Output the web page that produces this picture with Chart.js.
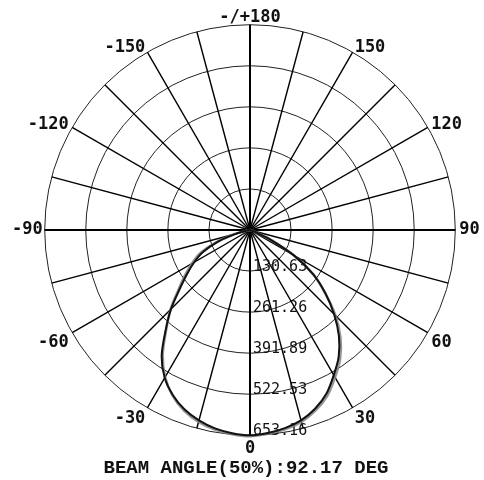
<!DOCTYPE html>
<html>
<head>
<meta charset="utf-8">
<script src="https://cdn.jsdelivr.net/npm/chart.js@4/dist/chart.umd.min.js"></script>
<style>
  html, body { margin: 0; padding: 0; background: #fff; }
</style>
</head>
<body>
<canvas id="polarChart" width="484" height="480"></canvas>
<script>
// spoke angles, clockwise from the top of the diagram
const angles = [180, 175, 170, 165, 160, 155, 150, 145, 140, 135, 130, 125,
  120, 115, 110, 105, 100, 95, 90, 85, 80, 75, 70, 65, 60, 55, 50, 45, 40, 35,
  30, 25, 20, 15, 10, 5, 0, -5, -10, -15, -20, -25, -30, -35, -40, -45, -50,
  -55, -60, -65, -70, -75, -80, -85, -90, -95, -100, -105, -110, -115, -120,
  -125, -130, -135, -140, -145, -150, -155, -160, -165, -170, -175];

// intensity, plane 1 (dark line)
const planeA = [0, 0, 0, 0, 0, 0, 0, 0, 0, 0, 0, 0,
  0, 0, 0, 0, 0, 0, 0, 0, 0, 2, 15, 70, 160, 245, 313, 378, 440, 492,
  533, 575, 605, 627, 640, 648, 653, 649, 641, 627, 608, 580, 543, 490, 418, 355, 292,
  245, 205, 165, 108, 45, 6, 0, 0, 0, 0, 0, 0, 0, 0,
  0, 0, 0, 0, 0, 0, 0, 0, 0, 0, 0];

// intensity, plane 2 (grey line)
const planeB = [0, 0, 0, 0, 0, 0, 0, 0, 0, 0, 0, 0,
  0, 0, 0, 0, 0, 0, 0, 0, 0, 3, 17, 75, 162, 245, 312, 385, 448, 500,
  541, 582, 611, 632, 644, 651, 656, 652, 645, 632, 612, 582, 540, 484, 415, 358, 298,
  253, 214, 175, 115, 52, 10, 0, 0, 0, 0, 0, 0, 0, 0,
  0, 0, 0, 0, 0, 0, 0, 0, 0, 0, 0];

const ringValues = [0, 130.632, 261.264, 391.896, 522.528, 653.16];
const ringLabels = ['', '130.63', '261.26', '391.89', '522.53', '653.16'];

// label box height and gap per labelled spoke, so the text sits like the original
function labelBox(index) {
  if (index === 0) return { h: 15, pad: 0 };          // top
  if (index === 36) return { h: 4.2, pad: 10.8 };     // bottom
  if (index === 18) return { h: 15, pad: 4 };         // right
  if (index === 54) return { h: 15, pad: 2 };         // left
  if (index < 18 || index > 54) return { h: 2, pad: 4 };
  return { h: 15, pad: 4 };
}

const ringLabelPlugin = {
  id: 'ringLabels',
  beforeDatasetsDraw(chart) {
    const r = chart.scales.r;
    const ctx = chart.ctx;
    ctx.save();
    ctx.font = '15px "DejaVu Sans Mono"';
    ctx.fillStyle = '#111';
    ctx.textAlign = 'left';
    ctx.textBaseline = 'alphabetic';
    ringValues.forEach((v, i) => {
      if (!ringLabels[i]) return;
      const d = r.getDistanceFromCenterForValue(v);
      ctx.fillText(ringLabels[i], r.xCenter + 3, r.yCenter + d);
    });
    ctx.restore();
  }
};

new Chart(document.getElementById('polarChart'), {
  type: 'radar',
  data: {
    labels: angles,
    datasets: [{
      data: planeA,
      borderColor: '#111',
      borderWidth: 2,
      fill: false,
      pointRadius: 0,
      tension: 0.3
    }, {
      data: planeB,
      borderColor: 'rgba(130,130,130,0.85)',
      borderWidth: 2.5,
      fill: false,
      pointRadius: 0,
      tension: 0.3
    }]
  },
  options: {
    responsive: false,
    animation: false,
    devicePixelRatio: 1,
    layout: { padding: { left: 8, right: 0, top: 9, bottom: 2 } },
    plugins: {
      legend: { display: false },
      tooltip: { enabled: false },
      title: {
        display: true,
        position: 'bottom',
        text: 'BEAM ANGLE(50%):92.17 DEG',
        color: '#111',
        font: { family: 'Liberation Mono', weight: 'bold', size: 19, lineHeight: 1 },
        padding: { top: 8, bottom: 0 }
      }
    },
    scales: {
      r: {
        min: 0,
        max: 653.16,
        afterBuildTicks: scale => {
          scale.ticks = ringValues.map(v => ({ value: v }));
        },
        ticks: { display: false },
        grid: { circular: true, color: '#222', lineWidth: 1 },
        angleLines: {
          color: ctx => ctx.index % 3 === 0 ? '#000' : 'transparent',
          lineWidth: ctx => ctx.index % 18 === 0 ? 2 : (ctx.index % 3 === 0 ? 1.4 : 0)
        },
        pointLabels: {
          color: '#111',
          padding: ctx => labelBox(ctx.index).pad,
          font: ctx => ({
            family: 'DejaVu Sans Mono',
            weight: 'bold',
            size: 17,
            lineHeight: labelBox(ctx.index).h + 'px'
          }),
          callback: (label, index) => {
            if (index % 6 !== 0) return [];
            return label === 180 ? '-/+180' : String(label);
          }
        }
      }
    }
  },
  plugins: [ringLabelPlugin]
});
</script>
</body>
</html>
